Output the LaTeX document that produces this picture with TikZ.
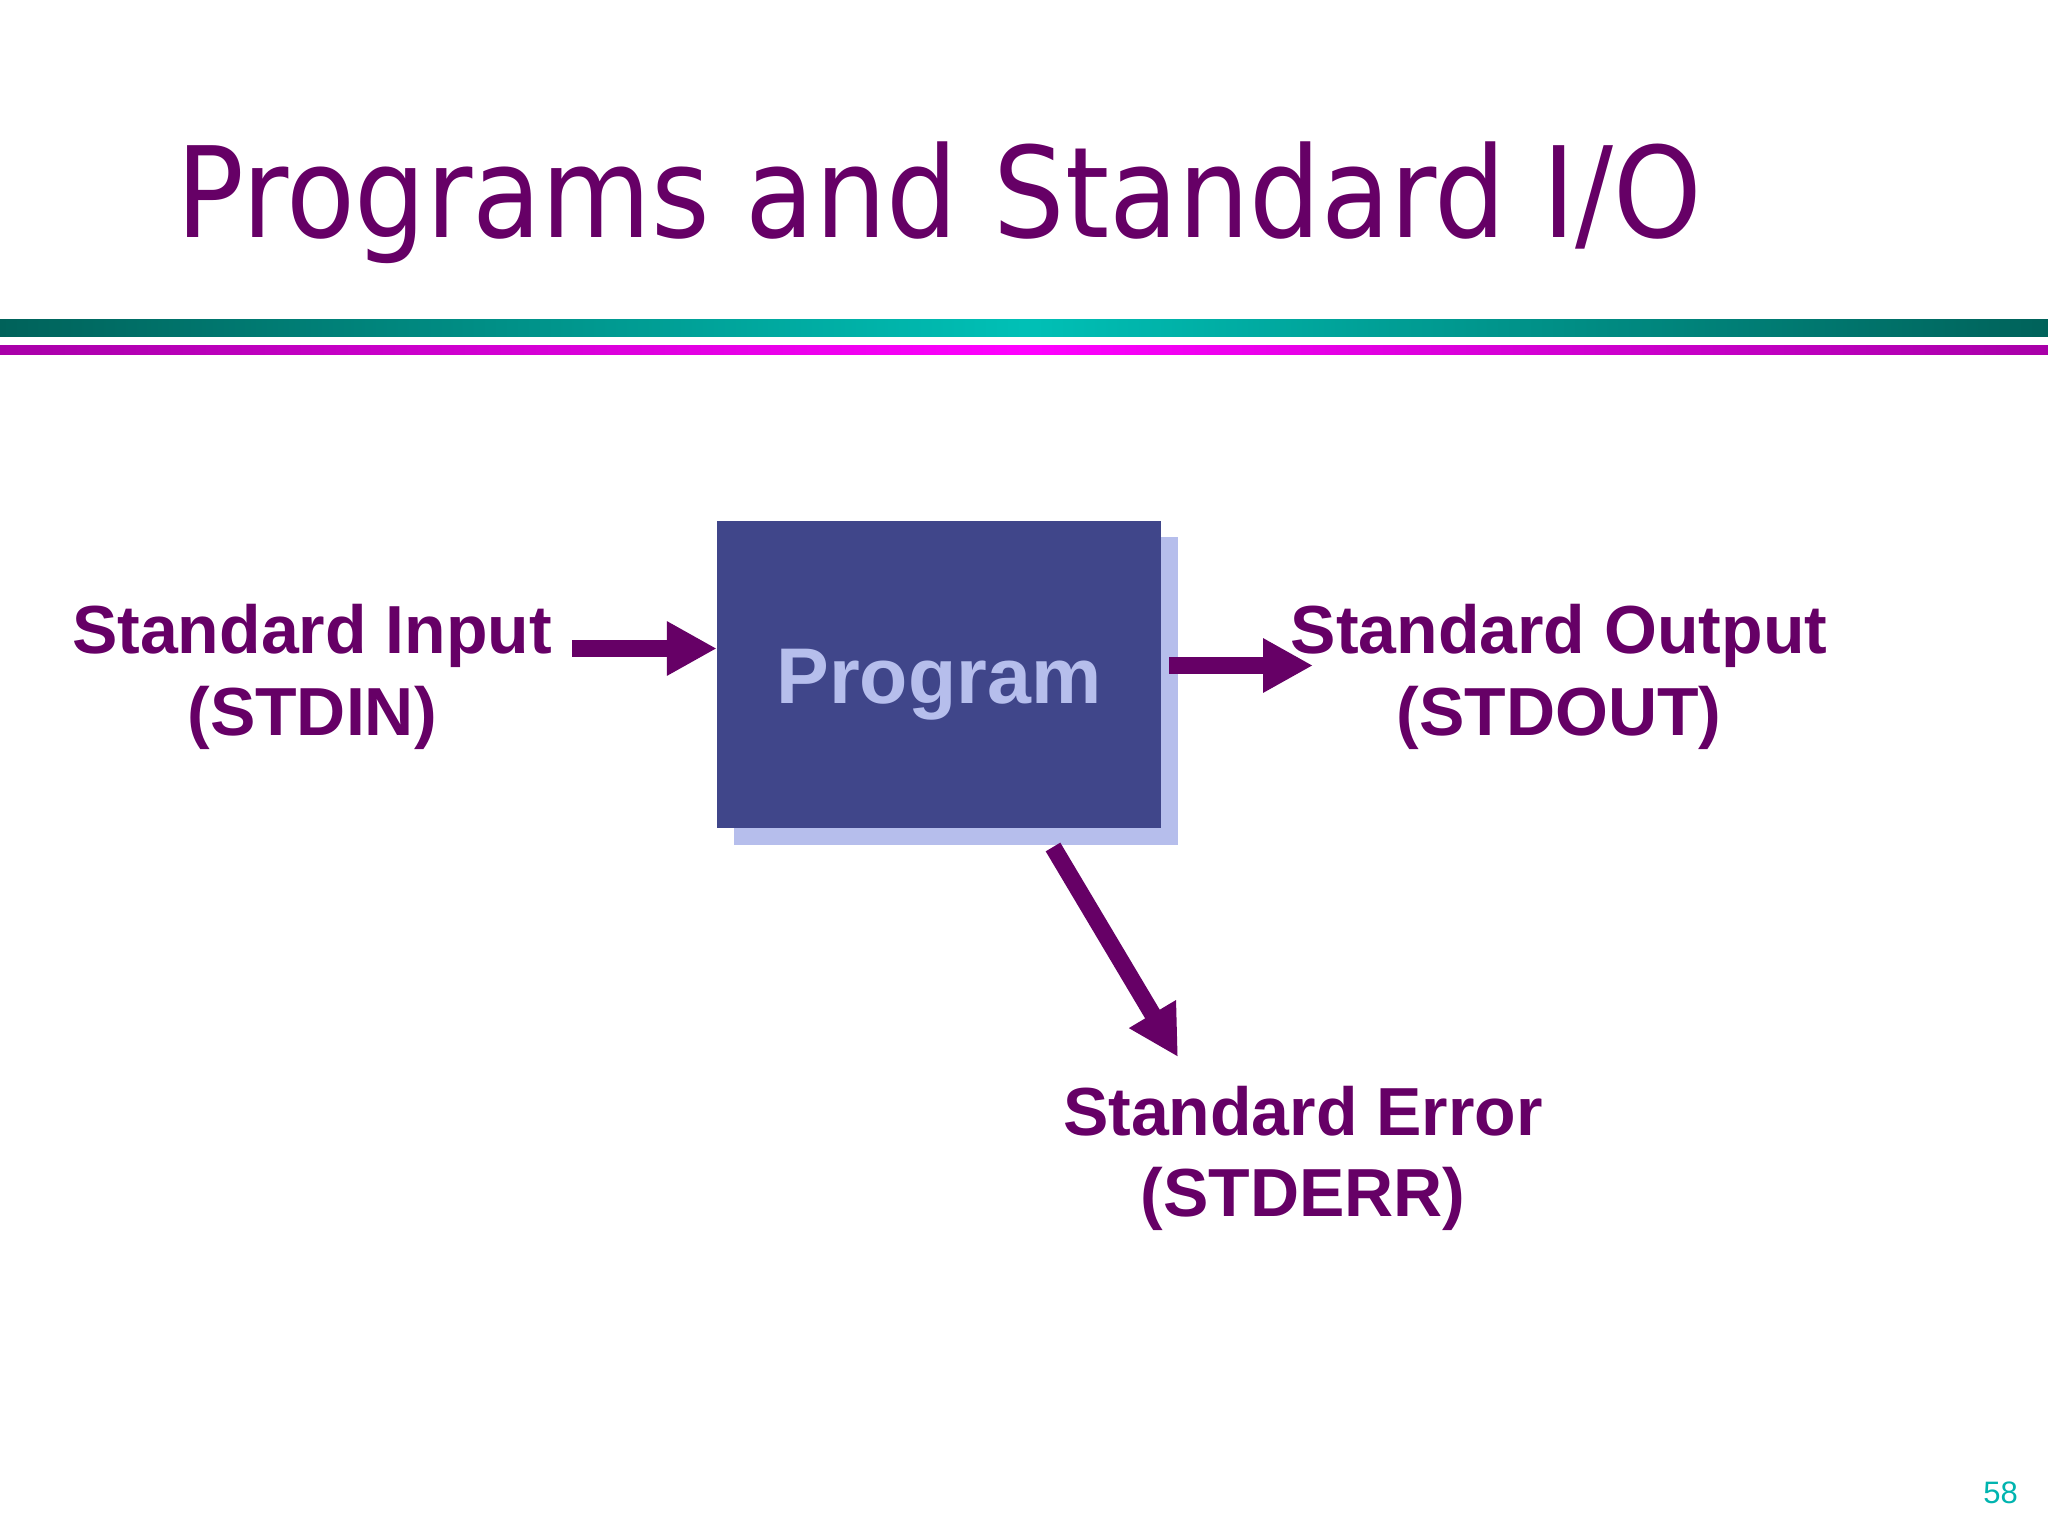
\documentclass[tikz,border=0pt]{standalone}
\usepackage{fontspec}
\setmainfont{Liberation Sans}
\newfontfamily\titlefont[FakeStretch=0.894]{DejaVu Sans}
\newfontfamily\pagefont{DejaVu Sans}
\usetikzlibrary{arrows.meta,calc}
\definecolor{ttlpurple}{RGB}{102,0,102}
\definecolor{arrowpurple}{RGB}{102,0,102}
\definecolor{boxblue}{RGB}{64,70,138}
\definecolor{shadowc}{RGB}{182,190,236}
\definecolor{tealdark}{RGB}{0,98,90}
\definecolor{tealbright}{RGB}{0,192,182}
\definecolor{magdark}{RGB}{168,0,168}
\definecolor{magbright}{RGB}{255,0,255}
\definecolor{pagenum}{RGB}{0,180,175}
\begin{document}
\begin{tikzpicture}[x=1pt,y=-1pt,
  titlestyle/.style={inner sep=0pt, anchor=base west, text=ttlpurple,
    font=\titlefont\fontsize{126pt}{150pt}\selectfont},
  lbl/.style={inner sep=0pt, anchor=base, text=ttlpurple,
    font=\fontsize{68pt}{82pt}\selectfont\bfseries},
  progbox/.style={fill=boxblue, minimum width=444pt, minimum height=307pt,
    inner sep=0pt, text=shadowc, text height=57pt, text depth=0pt,
    font=\fontsize{79pt}{90pt}\selectfont\bfseries},
  shadowbox/.style={fill=shadowc, minimum width=444pt, minimum height=308pt, inner sep=0pt},
  bigarrow/.style={draw=arrowpurple, line width=17pt,
    -{Triangle[length=50pt,width=51pt]}},
  pagestyle/.style={inner sep=0pt, anchor=base east, text=pagenum,
    font=\fontsize{31pt}{36pt}\selectfont}
]
\useasboundingbox (0,0) rectangle (2048,1536);
\fill[white] (0,0) rectangle (2048,1536);

% title
\node[titlestyle] (title) at (176,237) {Programs and Standard I/O};

% rules
\shade[left color=tealdark, right color=tealdark, middle color=tealbright]
  (0,319) rectangle (2048,336);
\shade[left color=magdark, right color=magdark, middle color=magbright]
  (0,345) rectangle (2048,354);

% program box with shadow
\node[shadowbox] (progshadow) at (956,691) {};
\node[progbox] (prog) at (939,674.5) {Program};

% labels
\node[lbl] (in1) at (312,653) {Standard Input};
\node[lbl] (in2) at (312,735) {(STDIN)};
\node[lbl] (out1) at (1559,653) {Standard Output};
\node[lbl] (out2) at (1559,735) {(STDOUT)};
\node[lbl] (err1) at (1303,1135) {Standard Error};
\node[lbl] (err2) at (1303,1216) {(STDERR)};

% connectors
\coordinate (inS) at (572,648.5);
\draw[bigarrow] (inS) -- (inS -| prog.west);

\coordinate (outT) at (1313,665.5);
\draw[bigarrow] ($(prog.east |- outT)+(8,0)$) -- (outT);

\coordinate (errS) at (1053,847);
\coordinate (errT) at (1178,1057);
\draw[bigarrow] (errS) -- (errT);

% page number
\node[pagestyle] (page) at (2018,1503) {58};
\end{tikzpicture}
\end{document}
